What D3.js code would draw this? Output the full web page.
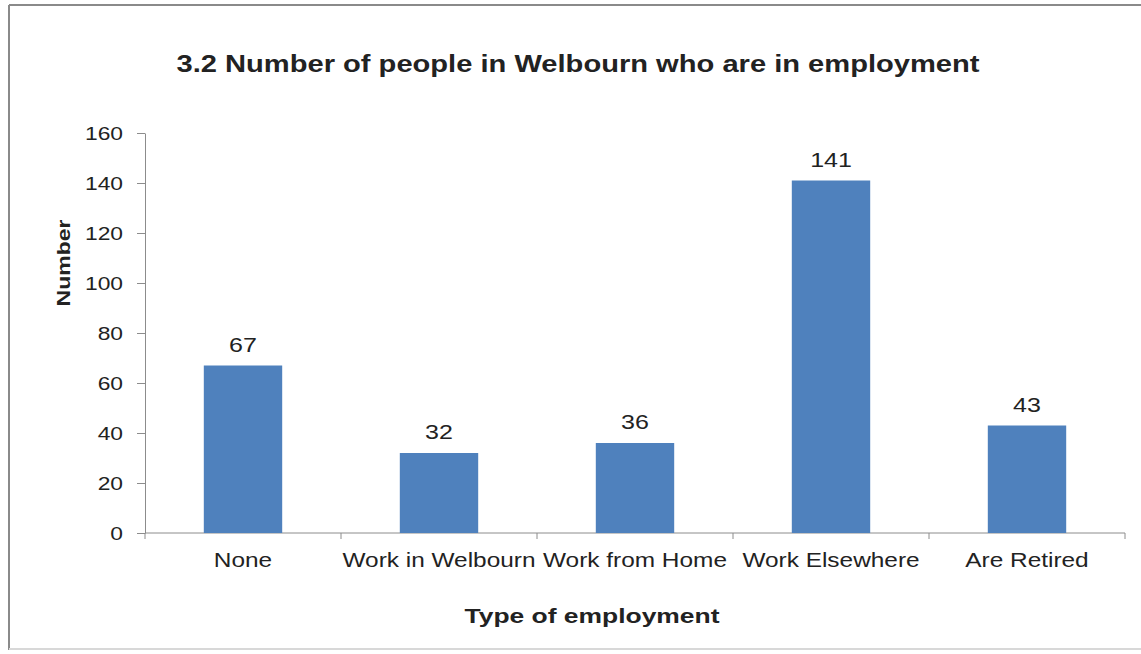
<!DOCTYPE html>
<html><head><meta charset="utf-8">
<script src="https://cdn.jsdelivr.net/npm/d3@7"></script>
<style>
html,body{margin:0;padding:0;background:#fff;}
svg{display:block;}
text{font-family:"Liberation Sans",Arial,sans-serif;fill:#222;}
</style></head>
<body>
<svg id="chart" width="1141" height="654"></svg>
<script>
const categories = ["None", "Work in Welbourn", "Work from Home", "Work Elsewhere", "Are Retired"];
const values = [67, 32, 36, 141, 43];
const yTicks = [0, 20, 40, 60, 80, 100, 120, 140, 160];
const titleText = "3.2 Number of people in Welbourn who are in employment";
const xTitle = "Type of employment";
const yTitle = "Number";

const svg = d3.select("#chart");
const stretch = 1.22;

// outer frame
svg.append("line").attr("x1", 9).attr("x2", 1141).attr("y1", 5).attr("y2", 5)
  .attr("stroke", "#8a8a8a").attr("stroke-width", 2);
svg.append("line").attr("x1", 9).attr("x2", 9).attr("y1", 5).attr("y2", 650)
  .attr("stroke", "#8a8a8a").attr("stroke-width", 2);
svg.append("line").attr("x1", 9).attr("x2", 1141).attr("y1", 649).attr("y2", 649)
  .attr("stroke", "#d8d8d8").attr("stroke-width", 2);

const plot = {left: 145, right: 1125, top: 133, bottom: 533};

const x = d3.scaleBand().domain(categories).range([plot.left, plot.right]).paddingInner(0.6).paddingOuter(0.3);
const y = d3.scaleLinear().domain([0, 160]).range([plot.bottom, plot.top]);

function widen(sel, f) {
  sel.each(function() {
    const n = this.getComputedTextLength();
    d3.select(this).attr("textLength", n * (f || stretch)).attr("lengthAdjust", "spacingAndGlyphs");
  });
}

// y axis
const yAxis = svg.append("g").attr("transform", `translate(${plot.left},0)`)
  .call(d3.axisLeft(y).tickValues(yTicks).tickSize(8).tickSizeOuter(0).tickPadding(14));
yAxis.select(".domain").attr("stroke", "#8c8c8c");
yAxis.selectAll(".tick line").attr("stroke", "#8c8c8c");
yAxis.selectAll(".tick text").attr("font-size", 19).attr("fill", "#222")
  .style("font-family", '"Liberation Sans",Arial,sans-serif');
widen(yAxis.selectAll(".tick text"), 1.2);

// x axis line and boundary ticks
const xg = svg.append("g");
xg.append("line").attr("x1", plot.left).attr("x2", plot.right).attr("y1", plot.bottom).attr("y2", plot.bottom)
  .attr("stroke", "#8c8c8c");
const step = x.step();
const bounds = d3.range(categories.length + 1).map(i => i === 0 ? plot.left : x(categories[i - 1]) + x.bandwidth() / 2 + step / 2);
xg.selectAll("line.b").data(bounds).join("line").attr("class", "b")
  .attr("x1", d => d).attr("x2", d => d).attr("y1", plot.bottom).attr("y2", plot.bottom + 6)
  .attr("stroke", "#8c8c8c");
const xl = xg.selectAll("text.cat").data(categories).join("text").attr("class", "cat")
  .attr("x", d => x(d) + x.bandwidth() / 2).attr("y", 567)
  .attr("text-anchor", "middle").attr("font-size", 20).text(d => d);
widen(xl, 1.22);

// bars
svg.selectAll("rect.bar").data(values).join("rect").attr("class", "bar")
  .attr("x", (d, i) => x(categories[i])).attr("width", x.bandwidth())
  .attr("y", d => y(d)).attr("height", d => plot.bottom - y(d))
  .attr("fill", "#4f81bd");

// data labels
const dl = svg.selectAll("text.val").data(values).join("text").attr("class", "val")
  .attr("x", (d, i) => x(categories[i]) + x.bandwidth() / 2).attr("y", d => y(d) - 14)
  .attr("text-anchor", "middle").attr("font-size", 20).text(d => d);
widen(dl, 1.25);

// title
svg.append("text").attr("x", 578).attr("y", 72).attr("text-anchor", "middle")
  .attr("font-size", 23).attr("font-weight", "bold").text(titleText)
  .attr("textLength", 803).attr("lengthAdjust", "spacingAndGlyphs");

// x title
svg.append("text").attr("x", 592).attr("y", 623).attr("text-anchor", "middle")
  .attr("font-size", 20).attr("font-weight", "bold").text(xTitle)
  .attr("textLength", 255).attr("lengthAdjust", "spacingAndGlyphs");

// y title
svg.append("text").attr("transform", "translate(70,263) rotate(-90)").attr("text-anchor", "middle")
  .attr("font-size", 19).attr("font-weight", "bold").text(yTitle)
  .attr("textLength", 87).attr("lengthAdjust", "spacingAndGlyphs");
</script>
</body></html>
